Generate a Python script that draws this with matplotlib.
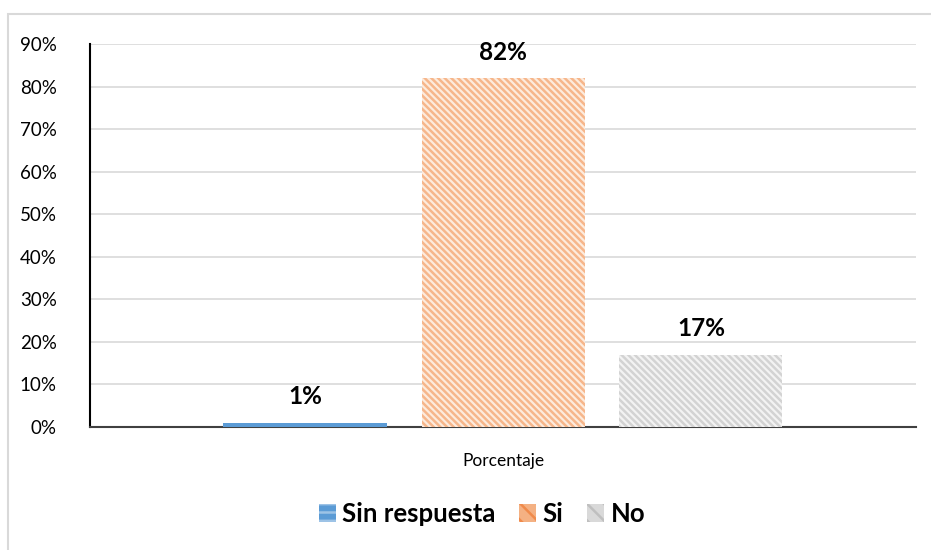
import matplotlib
matplotlib.use("Agg")
import matplotlib.pyplot as plt
from matplotlib.patches import Rectangle, Patch

categories = ["Porcentaje"]
series = ["Sin respuesta", "Si", "No"]
values = [1, 82, 17]
face_colors = ["#5B9BD5", "#FDEBDD", "#F3F3F3"]
hatch_colors = ["#5B9BD5", "#F6B68B", "#D3D3D3"]
hatches = [None, "\\\\\\\\\\", "\\\\\\\\\\"]
yticks = list(range(0, 91, 10))

plt.rcParams['font.family'] = ['Lato', 'DejaVu Sans']
plt.rcParams['hatch.linewidth'] = 1.8

W, H = 931, 550
fig = plt.figure(figsize=(W / 100, H / 100), dpi=100)
fig.patch.set_facecolor("white")

# outer chart border
fig.add_artist(Rectangle((8 / W, -0.5), 1.5, 1.5 - 14 / H, transform=fig.transFigure,
                         fill=False, edgecolor="#D9D9D9", linewidth=1.5))

ax = fig.add_axes([90 / W, 1 - 427 / H, (916 - 90) / W, (427 - 44) / H])
ax.set_xlim(0, 1)
ax.set_ylim(0, 90)

width = 163 / 826
gap = 35 / 826
centers = [0.5 - width - gap, 0.5, 0.5 + width + gap]
for i, (s, v) in enumerate(zip(series, values)):
    ax.bar(centers[i], v, width=width, color=face_colors[i],
           edgecolor=hatch_colors[i], linewidth=0, hatch=hatches[i],
           zorder=3, label=s)
    ax.text(centers[i], v + 3.4, f"{v}%", ha="center", va="bottom",
            fontsize=17.5, fontweight="bold", color="#000000")

ax.set_yticks(yticks)
ax.set_yticklabels([f"{t}%" for t in yticks], fontsize=13.5, color="#000000")
ax.yaxis.grid(True, color="#D9D9D9", linewidth=1.2, zorder=0)
ax.set_xticks([0.5])
ax.set_xticklabels(categories, fontsize=12.5, color="#000000")
ax.tick_params(axis="both", length=0)
ax.tick_params(axis="x", pad=19)
ax.tick_params(axis="y", pad=24)
for sp in ["top", "right"]:
    ax.spines[sp].set_visible(False)
ax.spines["left"].set_color("#000000")
ax.spines["left"].set_linewidth(1.5)
ax.spines["bottom"].set_color("#404040")
ax.spines["bottom"].set_linewidth(1.5)
ax.set_axisbelow(True)

handles = [Patch(facecolor="#5B9BD5", edgecolor="#9DC3E6", hatch="--", linewidth=0),
           Patch(facecolor="#F4B183", edgecolor="#F08A4B", hatch="\\\\", linewidth=0),
           Patch(facecolor="#D9D9D9", edgecolor="#BFBFBF", hatch="\\\\", linewidth=0)]
fig.legend(handles, series, loc="center", bbox_to_anchor=(482 / W, 1 - 514 / H),
           ncol=3, frameon=False, prop={"weight": "bold", "size": 18.5},
           handlelength=0.68, handleheight=0.68, handletextpad=0.25, columnspacing=0.9)

fig.savefig("out.png", dpi=100, facecolor="white")
